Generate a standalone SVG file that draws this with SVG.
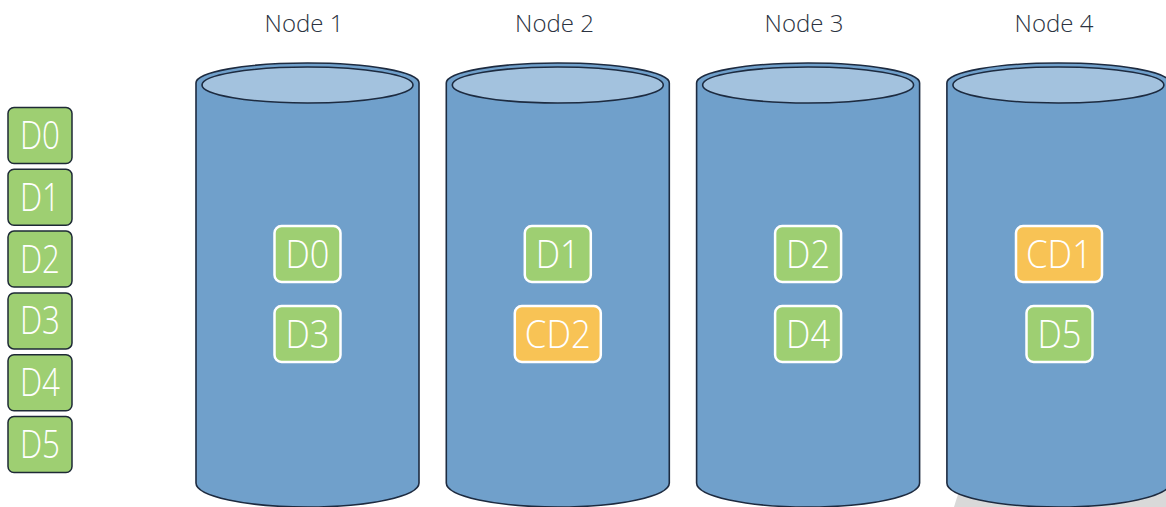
<svg xmlns="http://www.w3.org/2000/svg" width="1166" height="507" viewBox="0 0 1166 507">
  <style>
    .lbl { font-family: "Open Sans", "Liberation Sans", sans-serif; font-weight: 300; font-size: 24px; fill: #2b3240; text-anchor: middle; }
    .cyl { fill: #70A0CB; stroke: #1d2b40; stroke-width: 1.6; }
    .top { fill: #A3C2DE; stroke: #1d2b40; stroke-width: 1.6; }
    .lbox { fill: #9ECF72; stroke: #1e2a36; stroke-width: 1.5; }
    .gbox { fill: #9ECF72; stroke: #ffffff; stroke-width: 2.5; }
    .obox { fill: #F8C355; stroke: #ffffff; stroke-width: 2.5; }
    .bt { font-family: "Open Sans", "Liberation Sans", sans-serif; font-weight: 300; font-size: 38px; fill: #ffffff; text-anchor: middle; }
  </style>
  <defs>
    <g id="cylinder">
      <path class="cyl" d="M-111.5,83 A111.5,20 0 0 1 111.5,83 L111.5,483 A111.5,24 0 0 1 -111.5,483 Z"/>
      <ellipse class="top" cx="0" cy="85" rx="105.5" ry="18"/>
    </g>
  </defs>
  <rect width="1166" height="507" fill="#ffffff"/>
  <polygon points="960,488 1166,488 1166,507 954,507" fill="#d9d9d9"/>

  <g id="node1">
    <text class="lbl" x="304" y="32">Node 1</text>
    <use href="#cylinder" transform="translate(307.5,0)"/>
    <g id="node1-d0"><rect class="gbox" x="274.5" y="226" width="66" height="56" rx="7"/><text class="bt" x="307.5" y="268" textLength="44" lengthAdjust="spacingAndGlyphs">D0</text></g>
    <g id="node1-d3"><rect class="gbox" x="274.5" y="306" width="66" height="56" rx="7"/><text class="bt" x="307.5" y="348" textLength="44" lengthAdjust="spacingAndGlyphs">D3</text></g>
  </g>
  <g id="node2">
    <text class="lbl" x="554.5" y="32">Node 2</text>
    <use href="#cylinder" transform="translate(557.8,0)"/>
    <g id="node2-d1"><rect class="gbox" x="524.8" y="226" width="66" height="56" rx="7"/><text class="bt" x="557.8" y="268" textLength="44" lengthAdjust="spacingAndGlyphs">D1</text></g>
    <g id="node2-cd2"><rect class="obox" x="514.8" y="306" width="86" height="56" rx="7"/><text class="bt" x="557.8" y="348" textLength="66" lengthAdjust="spacingAndGlyphs">CD2</text></g>
  </g>
  <g id="node3">
    <text class="lbl" x="804" y="32">Node 3</text>
    <use href="#cylinder" transform="translate(808.1,0)"/>
    <g id="node3-d2"><rect class="gbox" x="775.1" y="226" width="66" height="56" rx="7"/><text class="bt" x="808.1" y="268" textLength="44" lengthAdjust="spacingAndGlyphs">D2</text></g>
    <g id="node3-d4"><rect class="gbox" x="775.1" y="306" width="66" height="56" rx="7"/><text class="bt" x="808.1" y="348" textLength="44" lengthAdjust="spacingAndGlyphs">D4</text></g>
  </g>
  <g id="node4">
    <text class="lbl" x="1054" y="32">Node 4</text>
    <use href="#cylinder" transform="translate(1058.4,0)"/>
    <g id="node4-cd1"><rect class="obox" x="1016" y="226" width="86" height="56" rx="7"/><text class="bt" x="1059" y="268" textLength="66" lengthAdjust="spacingAndGlyphs">CD1</text></g>
    <g id="node4-d5"><rect class="gbox" x="1026.5" y="306" width="66" height="56" rx="7"/><text class="bt" x="1059.5" y="348" textLength="44" lengthAdjust="spacingAndGlyphs">D5</text></g>
  </g>

  <g id="data-list">
    <g id="d0"><rect class="lbox" x="8" y="107.5" width="64" height="56" rx="6"/><text class="bt" x="40" y="149" textLength="40" lengthAdjust="spacingAndGlyphs">D0</text></g>
    <g id="d1"><rect class="lbox" x="8" y="169.3" width="64" height="56" rx="6"/><text class="bt" x="40" y="210.8" textLength="40" lengthAdjust="spacingAndGlyphs">D1</text></g>
    <g id="d2"><rect class="lbox" x="8" y="231.1" width="64" height="56" rx="6"/><text class="bt" x="40" y="272.6" textLength="40" lengthAdjust="spacingAndGlyphs">D2</text></g>
    <g id="d3"><rect class="lbox" x="8" y="292.9" width="64" height="56" rx="6"/><text class="bt" x="40" y="334.4" textLength="40" lengthAdjust="spacingAndGlyphs">D3</text></g>
    <g id="d4"><rect class="lbox" x="8" y="354.7" width="64" height="56" rx="6"/><text class="bt" x="40" y="396.2" textLength="40" lengthAdjust="spacingAndGlyphs">D4</text></g>
    <g id="d5"><rect class="lbox" x="8" y="416.5" width="64" height="56" rx="6"/><text class="bt" x="40" y="458" textLength="40" lengthAdjust="spacingAndGlyphs">D5</text></g>
  </g>
  <g id="connectors"/>
</svg>
